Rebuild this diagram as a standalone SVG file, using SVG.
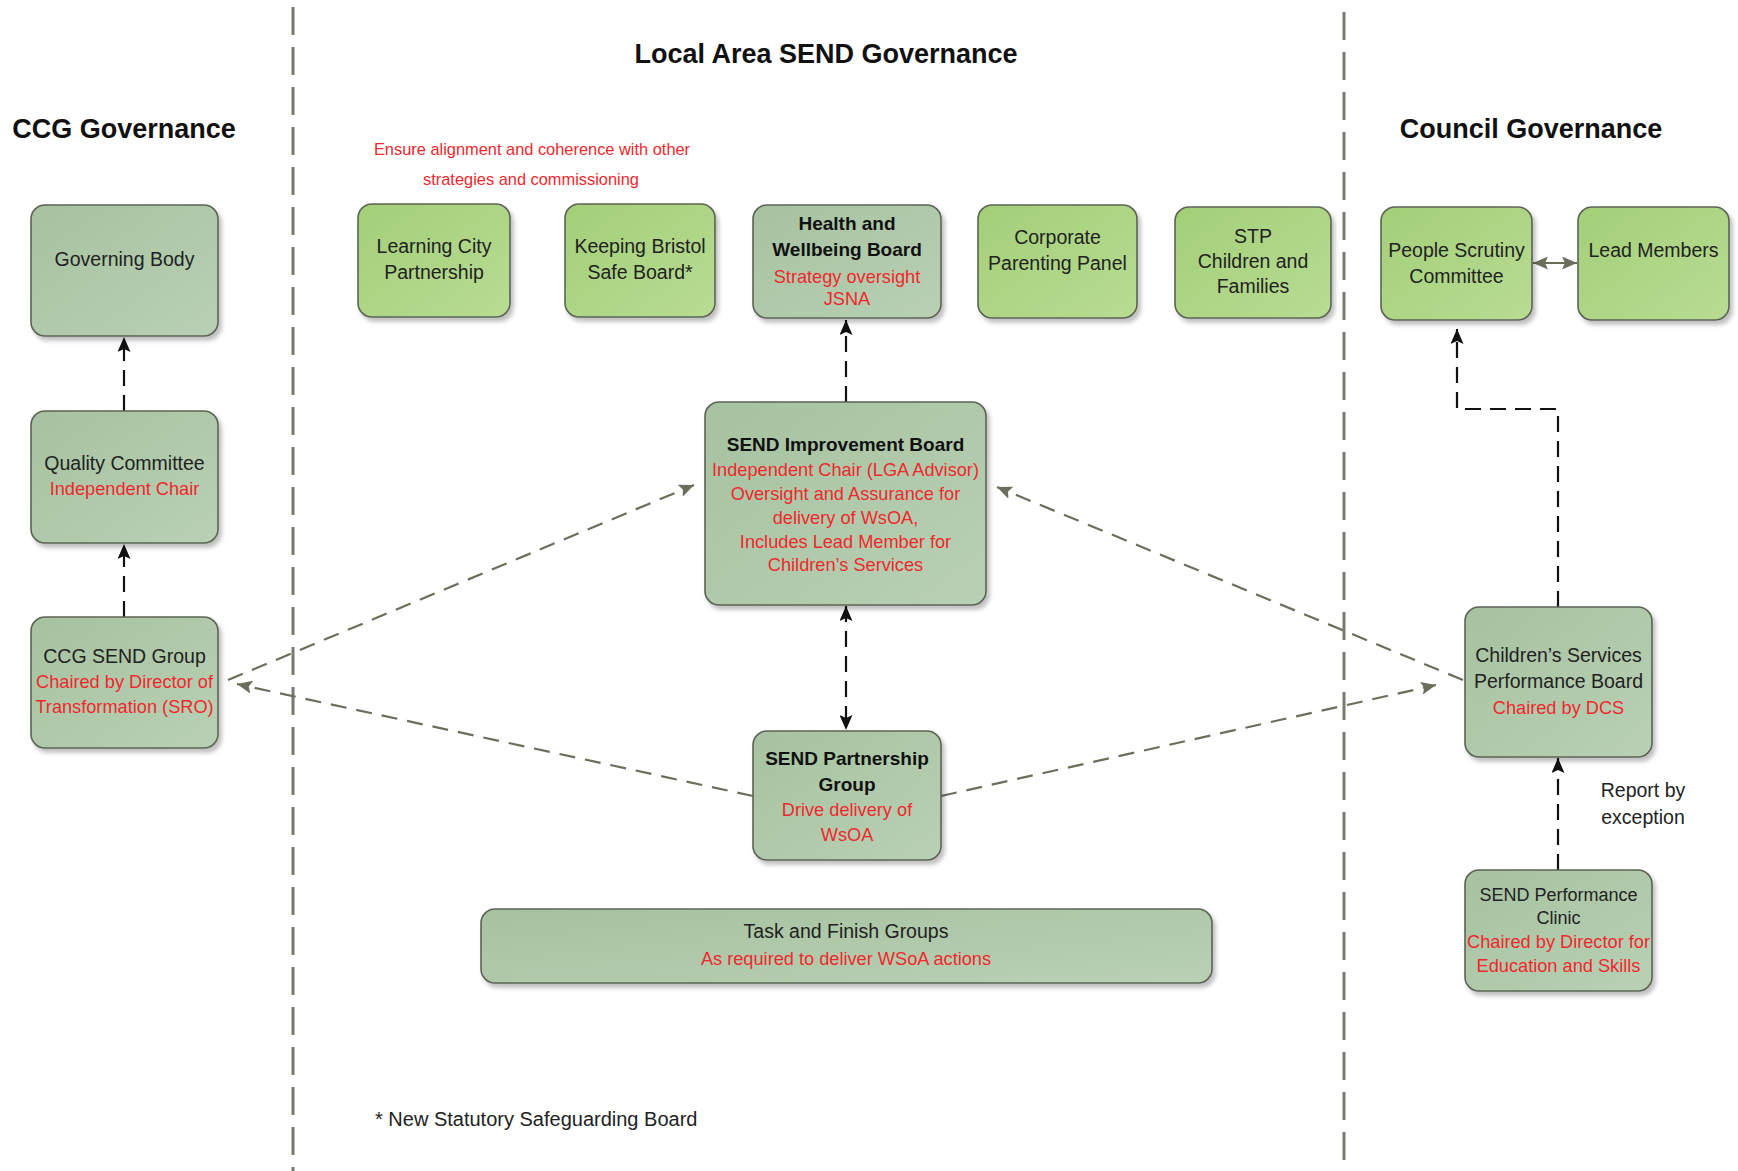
<svg xmlns="http://www.w3.org/2000/svg" width="1738" height="1171" viewBox="0 0 1738 1171">
<style>
  text { font-family: "Liberation Sans", Arial, sans-serif; text-anchor: middle; }
  .t { font-size: 19.5px; fill: #222; }
  .tb { font-size: 19px; fill: #111; font-weight: bold; }
  .r { font-size: 18.2px; fill: #f0282d; }
  .h { font-size: 27px; fill: #111; font-weight: bold; }
  .gg { fill: url(#gradGray); stroke: #5c6355; stroke-width: 1.6; filter: url(#shadow); }
  .lg { fill: url(#gradGreen); stroke: #5c6355; stroke-width: 1.6; filter: url(#shadow); }
  .div { stroke: #787b6b; stroke-width: 3; stroke-dasharray: 28 12; fill: none; }
  .blk { stroke: #111; stroke-width: 2.2; stroke-dasharray: 16 9; fill: none; }
  .gry { stroke: #6a6e5b; stroke-width: 2.2; stroke-dasharray: 16 10; fill: none; }
</style>
<defs>
  <linearGradient id="gradGray" x1="0" y1="0" x2="1" y2="1">
    <stop offset="0" stop-color="#a6c2a0"/>
    <stop offset="1" stop-color="#b9d0b4"/>
  </linearGradient>
  <linearGradient id="gradGreen" x1="0" y1="0" x2="1" y2="1">
    <stop offset="0" stop-color="#a3cf78"/>
    <stop offset="1" stop-color="#b8dc93"/>
  </linearGradient>
  <filter id="shadow" x="-10%" y="-10%" width="130%" height="130%">
    <feDropShadow dx="3" dy="4" stdDeviation="2" flood-color="#000" flood-opacity="0.25"/>
  </filter>
  <marker id="ahB" markerUnits="userSpaceOnUse" markerWidth="15" markerHeight="13" refX="15" refY="6.5" orient="auto-start-reverse">
    <path d="M0,0 L15,6.5 L0,13 L3,6.5 z" fill="#111"/>
  </marker>
  <marker id="ahG" markerUnits="userSpaceOnUse" markerWidth="15" markerHeight="13" refX="15" refY="6.5" orient="auto-start-reverse">
    <path d="M0,0 L15,6.5 L0,13 L3,6.5 z" fill="#6a6e5b"/>
  </marker>
</defs>

<g id="dividers">
  <line class="div" x1="293" y1="7" x2="293" y2="1171"/>
  <line class="div" x1="1344" y1="12" x2="1344" y2="1171"/>
</g>

<g id="headings">
  <text class="h" x="826" y="63">Local Area SEND Governance</text>
  <text class="h" x="124" y="138">CCG Governance</text>
  <text class="h" x="1531" y="138">Council Governance</text>
  <text class="r" x="532" y="155" style="font-size:16.4px">Ensure alignment and coherence with other</text>
  <text class="r" x="531" y="185" style="font-size:16.4px">strategies and commissioning</text>
  <text class="t" x="375" y="1126" style="text-anchor:start;font-size:20px">* New Statutory Safeguarding Board</text>
  <text class="t" x="1643" y="797">Report by</text>
  <text class="t" x="1643" y="824">exception</text>
</g>

<g id="connectors">
  <line class="blk" x1="124" y1="411" x2="124" y2="337" marker-end="url(#ahB)"/>
  <line class="blk" x1="124" y1="617" x2="124" y2="544" marker-end="url(#ahB)"/>
  <line class="blk" x1="846" y1="402" x2="846" y2="320" marker-end="url(#ahB)"/>
  <line class="blk" x1="846" y1="606" x2="846" y2="730" marker-start="url(#ahB)" marker-end="url(#ahB)"/>
  <path class="blk" d="M1558,607 V409 H1457 V329" marker-end="url(#ahB)"/>
  <line class="blk" x1="1558" y1="870" x2="1558" y2="758" marker-end="url(#ahB)"/>
  <line x1="1533" y1="263" x2="1577" y2="263" stroke="#6a6e5b" stroke-width="2.2" marker-start="url(#ahG)" marker-end="url(#ahG)"/>
  <line class="gry" x1="228" y1="680" x2="694" y2="485" marker-end="url(#ahG)"/>
  <line class="gry" x1="753" y1="796" x2="237" y2="684" marker-end="url(#ahG)"/>
  <line class="gry" x1="1463" y1="680" x2="997" y2="487" marker-end="url(#ahG)"/>
  <line class="gry" x1="941" y1="796" x2="1436" y2="685" marker-end="url(#ahG)"/>
</g>

<g id="governing-body">
  <rect class="gg" x="31" y="205" width="187" height="131" rx="14"/>
  <text class="t" x="124.5" y="266">Governing Body</text>
</g>
<g id="quality-committee">
  <rect class="gg" x="31" y="411" width="187" height="132" rx="14"/>
  <text class="t" x="124.5" y="470">Quality Committee</text>
  <text class="r" x="124.5" y="495">Independent Chair</text>
</g>
<g id="ccg-send-group">
  <rect class="gg" x="31" y="617" width="187" height="131" rx="14"/>
  <text class="t" x="124.5" y="663">CCG SEND Group</text>
  <text class="r" x="124.5" y="688">Chaired by Director of</text>
  <text class="r" x="124.5" y="713">Transformation (SRO)</text>
</g>

<g id="learning-city">
  <rect class="lg" x="358" y="204" width="152" height="113" rx="14"/>
  <text class="t" x="434" y="253">Learning City</text>
  <text class="t" x="434" y="279">Partnership</text>
</g>
<g id="keeping-bristol">
  <rect class="lg" x="565" y="204" width="150" height="113" rx="14"/>
  <text class="t" x="640" y="253">Keeping Bristol</text>
  <text class="t" x="640" y="279">Safe Board*</text>
</g>
<g id="health-wellbeing">
  <rect class="gg" x="753" y="205" width="188" height="113" rx="14"/>
  <text class="tb" x="847" y="230">Health and</text>
  <text class="tb" x="847" y="256">Wellbeing Board</text>
  <text class="r" x="847" y="283">Strategy oversight</text>
  <text class="r" x="847" y="305">JSNA</text>
</g>
<g id="corporate-parenting">
  <rect class="lg" x="978" y="205" width="159" height="113" rx="14"/>
  <text class="t" x="1057.5" y="244">Corporate</text>
  <text class="t" x="1057.5" y="270">Parenting Panel</text>
</g>
<g id="stp">
  <rect class="lg" x="1175" y="207" width="156" height="111" rx="14"/>
  <text class="t" x="1253" y="243">STP</text>
  <text class="t" x="1253" y="268">Children and</text>
  <text class="t" x="1253" y="293">Families</text>
</g>
<g id="people-scrutiny">
  <rect class="lg" x="1381" y="207" width="151" height="113" rx="14"/>
  <text class="t" x="1456.5" y="257">People Scrutiny</text>
  <text class="t" x="1456.5" y="283">Committee</text>
</g>
<g id="lead-members">
  <rect class="lg" x="1578" y="207" width="151" height="113" rx="14"/>
  <text class="t" x="1653.5" y="257">Lead Members</text>
</g>

<g id="send-improvement-board">
  <rect class="gg" x="705" y="402" width="281" height="203" rx="14"/>
  <text class="tb" x="845.5" y="451">SEND Improvement Board</text>
  <text class="r" x="845.5" y="476">Independent Chair (LGA Advisor)</text>
  <text class="r" x="845.5" y="500">Oversight and Assurance for</text>
  <text class="r" x="845.5" y="524">delivery of WsOA,</text>
  <text class="r" x="845.5" y="548">Includes Lead Member for</text>
  <text class="r" x="845.5" y="571">Children’s Services</text>
</g>
<g id="send-partnership-group">
  <rect class="gg" x="753" y="731" width="188" height="129" rx="14"/>
  <text class="tb" x="847" y="765">SEND Partnership</text>
  <text class="tb" x="847" y="791">Group</text>
  <text class="r" x="847" y="816">Drive delivery of</text>
  <text class="r" x="847" y="841">WsOA</text>
</g>
<g id="task-finish-groups">
  <rect class="gg" x="481" y="909" width="731" height="74" rx="14"/>
  <text class="t" x="846" y="938">Task and Finish Groups</text>
  <text class="r" x="846" y="965">As required to deliver WSoA actions</text>
</g>

<g id="childrens-services-performance-board">
  <rect class="gg" x="1465" y="607" width="187" height="150" rx="14"/>
  <text class="t" x="1558.5" y="662">Children’s Services</text>
  <text class="t" x="1558.5" y="688">Performance Board</text>
  <text class="r" x="1558.5" y="714">Chaired by DCS</text>
</g>
<g id="send-performance-clinic">
  <rect class="gg" x="1465" y="870" width="187" height="121" rx="14"/>
  <text class="t" x="1558.5" y="901" style="font-size:18px">SEND Performance</text>
  <text class="t" x="1558.5" y="924" style="font-size:18px">Clinic</text>
  <text class="r" x="1558.5" y="948">Chaired by Director for</text>
  <text class="r" x="1558.5" y="972">Education and Skills</text>
</g>
</svg>
